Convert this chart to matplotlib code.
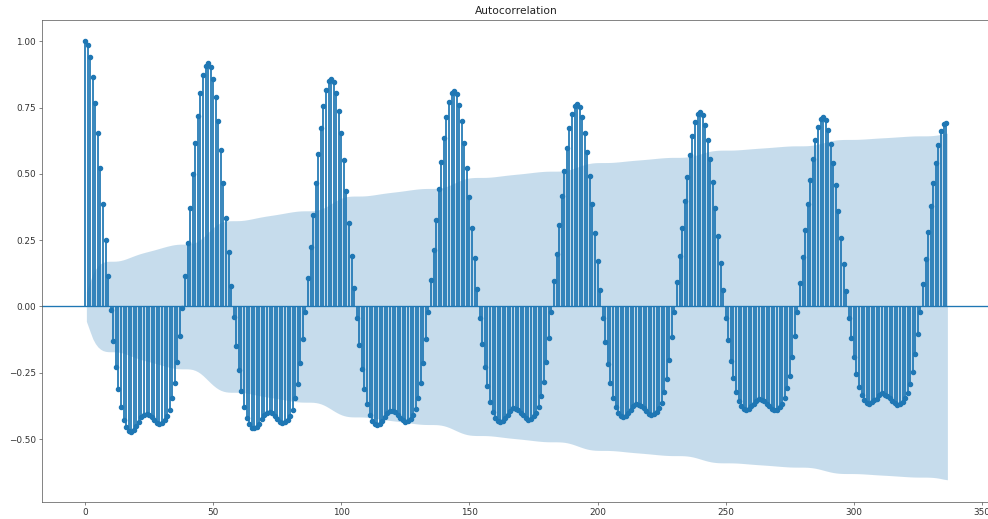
import numpy as np
import matplotlib
matplotlib.use("Agg")
import matplotlib.pyplot as plt

# Sample autocorrelation of a half-hourly series (48 lags per day), lags 0..336
day1 = [1.000, 0.985, 0.940, 0.865, 0.766, 0.653, 0.524, 0.388, 0.249, 0.114, -0.015,
        -0.129, -0.230, -0.313, -0.379, -0.429, -0.455, -0.471, -0.473, -0.466, -0.452,
        -0.434, -0.418, -0.408, -0.405, -0.409, -0.418, -0.430, -0.439, -0.443, -0.440,
        -0.430, -0.413, -0.391, -0.347, -0.288, -0.208, -0.111, -0.006,
        0.114, 0.240, 0.370, 0.499, 0.615, 0.718, 0.807, 0.874, 0.909]
day2 = [0.918, 0.905, 0.859, 0.789, 0.698, 0.590, 0.465, 0.335, 0.206, 0.076, -0.040,
        -0.149, -0.240, -0.318, -0.379, -0.419, -0.444, -0.457, -0.460, -0.455, -0.442,
        -0.425, -0.410, -0.400, -0.398, -0.402, -0.412, -0.424, -0.434, -0.440, -0.437,
        -0.428, -0.412, -0.390, -0.347, -0.293, -0.215, -0.124, -0.019,
        0.107, 0.224, 0.346, 0.467, 0.576, 0.672, 0.755, 0.818, 0.850]
day3 = [0.859, 0.847, 0.804, 0.738, 0.653, 0.552, 0.436, 0.314, 0.192, 0.071, -0.045,
        -0.145, -0.234, -0.310, -0.369, -0.408, -0.432, -0.445, -0.448, -0.443, -0.431,
        -0.417, -0.403, -0.393, -0.394, -0.398, -0.408, -0.420, -0.430, -0.436, -0.433,
        -0.424, -0.408, -0.386, -0.344, -0.290, -0.213, -0.123, -0.020,
        0.101, 0.212, 0.327, 0.442, 0.544, 0.635, 0.714, 0.773, 0.804]
day4 = [0.812, 0.801, 0.760, 0.698, 0.617, 0.522, 0.412, 0.296, 0.182, 0.067, -0.045,
        -0.141, -0.228, -0.301, -0.359, -0.397, -0.421, -0.433, -0.436, -0.431, -0.419,
        -0.408, -0.393, -0.384, -0.386, -0.390, -0.400, -0.411, -0.421, -0.427, -0.424,
        -0.415, -0.400, -0.378, -0.337, -0.284, -0.209, -0.120, -0.020,
        0.095, 0.199, 0.308, 0.416, 0.512, 0.597, 0.672, 0.727, 0.756]
day5 = [0.764, 0.753, 0.715, 0.656, 0.581, 0.491, 0.387, 0.279, 0.171, 0.063, -0.045,
        -0.135, -0.218, -0.288, -0.344, -0.380, -0.403, -0.415, -0.417, -0.413, -0.401,
        -0.390, -0.376, -0.367, -0.370, -0.374, -0.383, -0.394, -0.404, -0.409, -0.406,
        -0.398, -0.383, -0.363, -0.323, -0.272, -0.200, -0.115, -0.020,
        0.091, 0.191, 0.295, 0.398, 0.490, 0.572, 0.643, 0.697, 0.725]
day6 = [0.732, 0.722, 0.685, 0.629, 0.556, 0.471, 0.371, 0.267, 0.164, 0.061, -0.045,
        -0.126, -0.204, -0.270, -0.321, -0.355, -0.377, -0.388, -0.390, -0.386, -0.375,
        -0.369, -0.356, -0.348, -0.354, -0.358, -0.367, -0.377, -0.386, -0.392, -0.389,
        -0.381, -0.367, -0.347, -0.309, -0.261, -0.191, -0.110, -0.020,
        0.088, 0.186, 0.287, 0.388, 0.478, 0.558, 0.627, 0.679, 0.706]
day7 = [0.713, 0.703, 0.667, 0.612, 0.542, 0.458, 0.361, 0.260, 0.160, 0.059, -0.045,
        -0.119, -0.191, -0.253, -0.302, -0.334, -0.353, -0.364, -0.366, -0.362, -0.352,
        -0.348, -0.335, -0.327, -0.334, -0.338, -0.346, -0.356, -0.365, -0.370, -0.367,
        -0.360, -0.346, -0.328, -0.291, -0.246, -0.181, -0.104, -0.020,
        0.086, 0.181, 0.280, 0.378, 0.465, 0.543, 0.610, 0.661, 0.687]
last_lag = [0.694]

nobs = 1216          # number of observations behind the estimate
alpha_z = 1.96       # 95% normal quantile

acf = np.array(day1 + day2 + day3 + day4 + day5 + day6 + day7 + last_lag)
lags = np.arange(len(acf))

# Bartlett's formula for the variance of the sample autocorrelations
var = np.ones(len(acf)) / nobs
var[0] = 0
var[2:] *= 1 + 2 * np.cumsum(acf[1:-1] ** 2)
half_width = alpha_z * np.sqrt(var)

band_x = lags[1:].astype(float)
band_x[0] -= 0.5
band_x[-1] += 0.5
band_hw = half_width[1:]

s = 0.64  # overall scale of text and line weights
plt.rcParams.update({
    "font.family": "DejaVu Sans",
    "font.size": 10 * s,
    "axes.linewidth": 0.8 * s,
    "axes.edgecolor": "#555555",
    "xtick.major.width": 0.8 * s,
    "ytick.major.width": 0.8 * s,
    "xtick.major.size": 3.5 * s,
    "ytick.major.size": 3.5 * s,
    "xtick.major.pad": 3.5 * s,
    "ytick.major.pad": 3.5 * s,
    "xtick.color": "#555555",
    "ytick.color": "#555555",
    "xtick.labelcolor": "#333333",
    "ytick.labelcolor": "#333333",
})

fig = plt.figure(figsize=(9.88, 5.19), dpi=100)
ax = fig.add_axes([42 / 988, 1 - 501.7 / 519, 948.5 / 988, 482.2 / 519])

ax.vlines(lags, 0, acf, colors="C0", linewidth=1.25)
ax.axhline(0, color="C0", linewidth=1.5 * s)
ax.plot(lags, acf, marker="o", markersize=4.6 * s, linestyle="None", color="C0")
ax.margins(0.05)
ax.fill_between(band_x, -band_hw, band_hw, alpha=0.25, color="C0", linewidth=0)
ax.set_title("Autocorrelation", fontsize=12 * s, pad=6 * s, color="#222222")

fig.savefig("out.png", dpi=100)
